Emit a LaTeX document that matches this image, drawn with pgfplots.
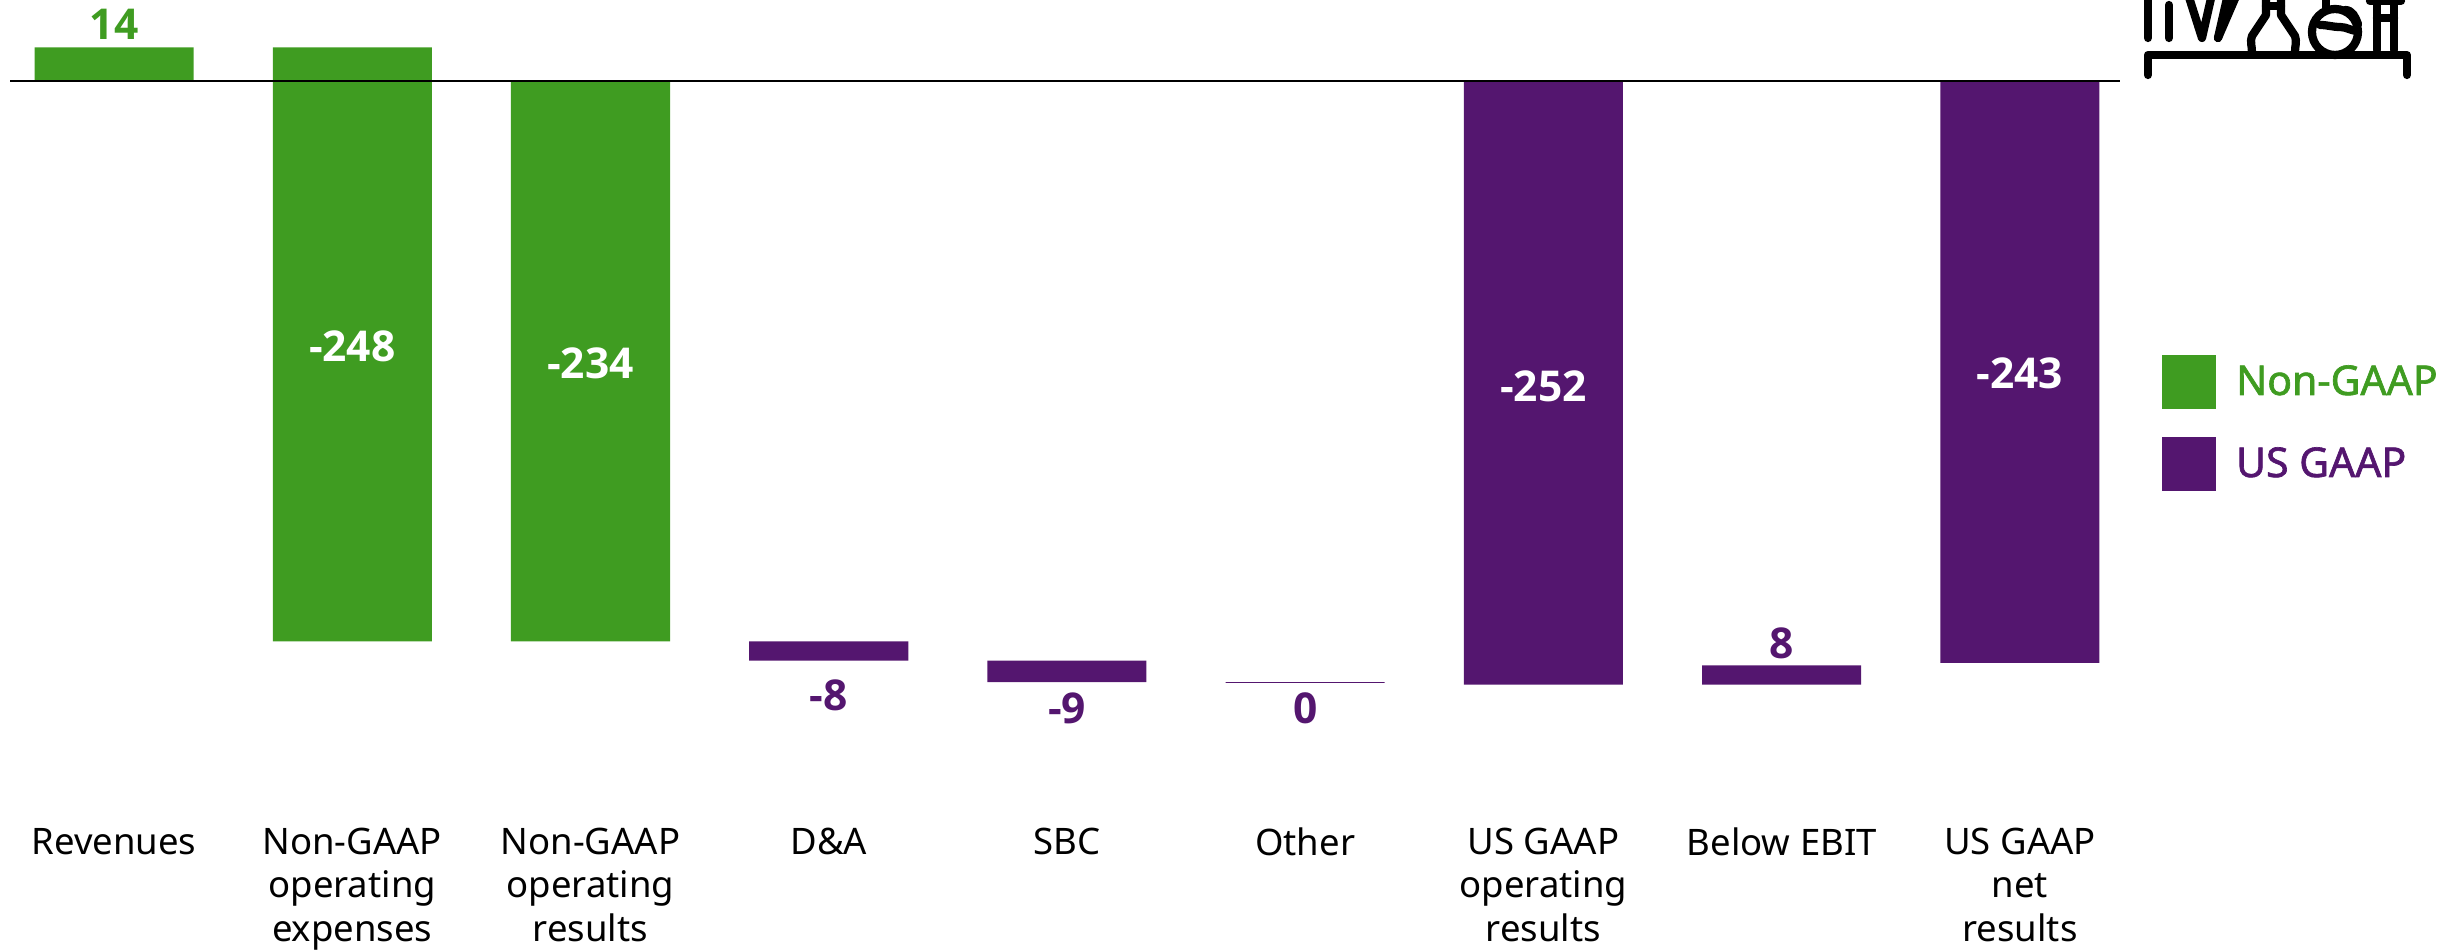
\documentclass[border=0pt]{standalone}
\usepackage{pgfplots}
\usepackage{pgfplotstable}
\usepackage{fontspec}
\pgfplotsset{compat=1.18}
\setmainfont{Noto Sans}
\newfontfamily\valuefont{Open Sans}
\newfontfamily\legendfont[FakeBold=1.6]{Noto Sans}
\definecolor{gaapgreen}{HTML}{3F9C21}
\definecolor{gaappurple}{HTML}{54166F}
\pgfplotstableread{
x base green purple
0 0 14 0
1 14 -248 0
2 0 -234 0
3 -234 0 -8
4 -242 0 -9
5 -251 0 -0.3
6 0 0 -252
7 -252 0 8
8 0 0 -243
}\bars
\pgfplotsset{frame/.style={
  at={(0pt,54.4pt)}, anchor=south west,
  scale only axis, width=978pt, height=326pt,
  xmin=-0.4785, xmax=9.784,
  ymin=-306.47, ymax=33.82,
  clip=false}}
\begin{document}
\begin{tikzpicture}
\useasboundingbox (0,0) rectangle (978pt,380.4pt);
\begin{axis}[
  frame,
  axis line style={draw=none},
  major tick length=0pt,
  ytick=\empty,
  xtick={0,1,2,3,4,5,6,7,8},
  xticklabels={Revenues,{Non-GAAP\\operating\\expenses},{Non-GAAP\\operating\\results},D\&A,SBC,Other,{US GAAP\\operating\\results},Below EBIT,{US GAAP\\net\\results}},
  x tick label style={align=center, font=\fontsize{14.6}{17.4}\selectfont, text=black, inner sep=0pt, yshift=-5pt},
  ybar stacked, stack negative=on previous, bar width=63.6pt,
  legend cell align=left,
  legend style={at={(0.8843,0.5644)}, anchor=north west, draw=none, fill=none, inner sep=0pt, outer sep=0pt,
    row sep=11.2pt, font=\fontsize{16.4}{18}\selectfont\legendfont,
    /tikz/every even column/.style={column sep=0pt}},
  legend image code/.code={\fill[#1,draw=none] (0pt,-10.8pt) rectangle (21.6pt,10.8pt);},
]
\addplot[draw=none, fill=none, forget plot] table[x=x,y=base] {\bars};
\addplot[draw=none, fill=gaapgreen] table[x=x,y=green] {\bars};
\addlegendentry{\hspace{6pt}\textcolor{gaapgreen}{Non-GAAP}}
\addplot[draw=none, fill=gaappurple] table[x=x,y=purple] {\bars};
\addlegendentry{\hspace{6pt}\textcolor{gaappurple}{US GAAP}}
\end{axis}
\begin{axis}[frame, hide axis]
% zero line
\addplot[black, line width=0.8pt, forget plot] coordinates {(-0.436,0) (8.42,0)};
% value labels
\addplot[draw=none, mark=none, forget plot,
  nodes near coords, point meta=explicit symbolic,
  every node near coord/.style={anchor=center, inner sep=0pt, font=\fontsize{17}{18}\selectfont\valuefont\bfseries, text=white}]
  table[meta=label] {
x y label
1 -110.6 -248
2 -117.8 -234
6 -127.6 -252
8 -122 -243
};
\addplot[draw=none, mark=none, forget plot,
  nodes near coords, point meta=explicit symbolic,
  every node near coord/.style={anchor=center, inner sep=0pt, font=\fontsize{17}{18}\selectfont\valuefont\bfseries, text=gaapgreen}]
  table[meta=label] {
x y label
0 23.8 14
};
\addplot[draw=none, mark=none, forget plot,
  nodes near coords, point meta=explicit symbolic,
  every node near coord/.style={anchor=center, inner sep=0pt, font=\fontsize{17}{18}\selectfont\valuefont\bfseries, text=gaappurple}]
  table[meta=label] {
x y label
3 -256.4 -8
4 -262 -9
5 -262 0
7 -235 8
};
\end{axis}
% decorative icon, top right, cut by the page edge
\begin{scope}[shift={(0pt,380.4pt)}, x=0.4pt, y=-0.4pt, line width=3.3pt, line cap=round, line join=round, black]
\clip (2100,0) rectangle (2445,120);
\draw (2148,75)--(2148,55)--(2407,55)--(2407,75);
\draw (2148,-10)--(2148,38);
\draw (2169,5)--(2169,38);
\draw (2188,-6)--(2202,38)--(2212,-6);
\draw (2218,38)--(2228,-6);
\draw (2218,38)--(2237,-6);
\draw (2266,-5)--(2266,15)--(2252,36) to[out=-110,in=90] (2252,52);
\draw (2281,-5)--(2281,15)--(2295,36) to[out=-70,in=90] (2295,52);
\draw (2266,6)--(2281,6);
\draw (2335,32) circle[radius=23];
\draw (2320,25) to[out=0,in=180] (2340,27) to[out=0,in=180] (2358,31);
\draw (2345,10) to[out=0,in=110] (2358,24);
\draw (2326,-6)--(2326,8);
\draw (2377,2)--(2377,50);
\draw (2394,2)--(2394,50);
\draw (2370,1)--(2401,1);
\draw (2377,18)--(2394,18);
\end{scope}
\end{tikzpicture}
\end{document}
